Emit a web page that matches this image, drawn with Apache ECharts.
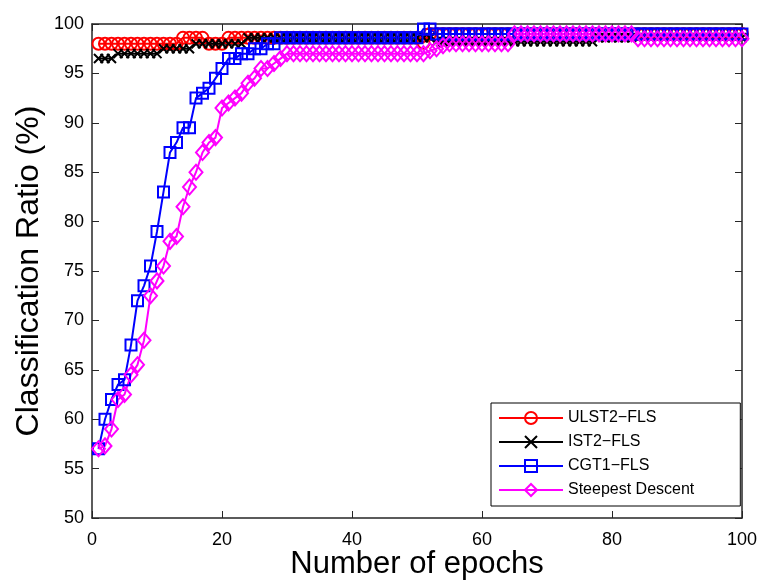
<!DOCTYPE html>
<html>
<head>
<meta charset="utf-8">
<script src="https://cdn.jsdelivr.net/npm/echarts@6/dist/echarts.min.js"></script>
<style>
  html, body { margin: 0; padding: 0; background: #fff; }
  #chart { width: 762px; height: 582px; }
</style>
</head>
<body>
<div id="chart"></div>
<script>
// Epoch numbers 1..100
const epochs = Array.from({ length: 100 }, (_, i) => i + 1);

// Classification ratio (%) per epoch, listed as runs of equal values
const ulst2Runs = [[13, 98.0], [4, 98.6], [3, 98.0], [30, 98.6], [1, 98.1], [49, 99.0]];
const ist2Runs = [[3, 96.5], [7, 97.0], [5, 97.5], [8, 98.0], [29, 98.6], [25, 98.2], [23, 98.6]];
const cgt1Head = [57, 60, 62, 63.5, 64, 67.5, 72, 73.5, 75.5, 79, 83, 87, 88, 89.5, 89.5,
                  92.5, 93, 93.5, 94.5, 95.5, 96.5, 96.5, 97, 97, 97.5, 97.5, 98, 98];
const cgt1TailRuns = [[22, 98.6], [2, 99.5], [48, 99.0]];
const steepHead = [57, 57.3, 59, 62, 62.5, 64.5, 65.5, 68, 72.5, 74, 75.5, 78, 78.5, 81.5, 83.5,
                   85, 87, 88, 88.5, 91.5, 92, 92.5, 93, 94, 94.5, 95.5, 95.5, 96, 96.5];
const steepTailRuns = [[22, 97.0], [1, 97.3], [1, 97.5], [1, 97.8], [10, 98.0], [19, 99.0], [17, 98.5]];

// Axis ticks
const xTicks = [0, 20, 40, 60, 80, 100];
const yTicks = [50, 55, 60, 65, 70, 75, 80, 85, 90, 95, 100];

const seriesNames = ['ULST2\u2212FLS', 'IST2\u2212FLS', 'CGT1\u2212FLS', 'Steepest Descent'];

function expandRuns(runs) {
  const out = [];
  runs.forEach(([count, v]) => { for (let k = 0; k < count; k++) out.push(v); });
  return out;
}

const ulst2 = expandRuns(ulst2Runs);
const ist2 = expandRuns(ist2Runs);
const cgt1 = cgt1Head.concat(expandRuns(cgt1TailRuns));
const steep = steepHead.concat(expandRuns(steepTailRuns));

const pairs = vals => epochs.map((e, i) => [e, vals[i]]);

const fontFamily = 'Liberation Sans, Arial, Helvetica, sans-serif';
const axisColor = '#262626';

function lineSeries(name, vals, color, symbol, size) {
  return {
    name: name,
    type: 'line',
    data: pairs(vals),
    symbol: symbol,
    symbolSize: size,
    showAllSymbol: true,
    lineStyle: { color: color, width: 2 },
    itemStyle: { color: 'rgba(0,0,0,0)', borderColor: color, borderWidth: 2 },
    emphasis: { disabled: true },
    z: 3
  };
}

const chart = echarts.init(document.getElementById('chart'), null, { renderer: 'canvas' });

const xMin = xTicks[0], xMax = xTicks[xTicks.length - 1], xStep = xTicks[1] - xTicks[0];
const yMin = yTicks[0], yMax = yTicks[yTicks.length - 1], yStep = yTicks[1] - yTicks[0];

const baseAxis = {
  axisLine: { show: true, onZero: false, lineStyle: { color: axisColor, width: 1.5 } },
  axisTick: { show: true, inside: true, length: 7, lineStyle: { color: axisColor, width: 1 } },
  splitLine: { show: false },
  nameMoveOverlap: false
};

chart.setOption({
  animation: false,
  backgroundColor: '#fff',
  grid: { left: 92, right: 20, top: 24, bottom: 64, containLabel: false, outerBoundsMode: 'none' },
  xAxis: [
    Object.assign({}, baseAxis, {
      type: 'value', min: xMin, max: xMax, interval: xStep, position: 'bottom',
      axisLabel: { color: '#000', fontSize: 18, fontFamily: fontFamily, margin: 13 },
      name: 'Number of epochs', nameLocation: 'middle', nameGap: 31,
      nameTextStyle: { color: '#000', fontSize: 31, fontFamily: fontFamily }
    }),
    Object.assign({}, baseAxis, {
      type: 'value', min: xMin, max: xMax, interval: xStep, position: 'top',
      axisLabel: { show: false }
    })
  ],
  yAxis: [
    Object.assign({}, baseAxis, {
      type: 'value', min: yMin, max: yMax, interval: yStep, position: 'left',
      axisLabel: { color: '#000', fontSize: 18, fontFamily: fontFamily, margin: 8 },
      name: 'Classification Ratio (%)', nameLocation: 'middle', nameGap: 47,
      nameTextStyle: { color: '#000', fontSize: 32, fontFamily: fontFamily }
    }),
    Object.assign({}, baseAxis, {
      type: 'value', min: yMin, max: yMax, interval: yStep, position: 'right',
      axisLabel: { show: false }
    })
  ],
  legend: {
    data: seriesNames,
    orient: 'vertical',
    left: 491,
    top: 403,
    padding: [7, 46, 8, 7],
    itemWidth: 64,
    itemHeight: 15,
    itemGap: 8,
    backgroundColor: '#fff',
    borderColor: '#000',
    borderWidth: 1,
    borderRadius: 0,
    textStyle: { color: '#000', fontSize: 16, fontFamily: fontFamily },
    selectedMode: false
  },
  series: [
    lineSeries(seriesNames[0], ulst2, '#ff0000', 'circle', 12),
    lineSeries(seriesNames[1], ist2, '#000000', 'path://M0,0L10,10M10,0L0,10', 9),
    lineSeries(seriesNames[2], cgt1, '#0000ff', 'rect', 11),
    lineSeries(seriesNames[3], steep, '#ff00ff', 'diamond', [13, 15])
  ]
});
</script>
</body>
</html>
